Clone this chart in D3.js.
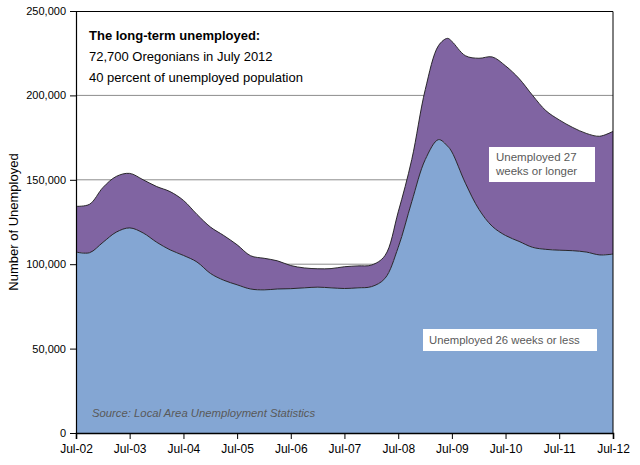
<!DOCTYPE html>
<html>
<head>
<meta charset="utf-8">
<script src="https://cdn.jsdelivr.net/npm/d3@7"></script>
<style>
  body { margin: 0; background: #fff; }
  text { font-family: "Liberation Sans", Arial, sans-serif; }
</style>
</head>
<body>
<svg id="chart" width="640" height="465"></svg>
<script>
// readings, mostly quarterly, Jul 2002 - Jul 2012
const quarters = [
  "2002-07", "2002-10", "2003-01", "2003-04", "2003-07", "2003-10", "2004-01", "2004-04",
  "2004-07", "2004-10", "2005-01", "2005-04", "2005-07", "2005-10", "2006-01", "2006-04",
  "2006-07", "2006-10", "2007-01", "2007-04", "2007-07", "2007-10", "2008-01", "2008-04",
  "2008-07", "2008-10", "2009-01", "2009-04", "2009-06", "2009-07", "2009-10", "2010-01",
  "2010-04", "2010-07", "2010-10", "2011-01", "2011-04", "2011-07", "2011-10", "2012-01",
  "2012-04", "2012-07"
];

// unemployed 26 weeks or less
const shortTerm = [
  107200, 106800, 113000, 119000, 121500, 118500, 113000, 108500,
  105200, 101300, 94500, 90500, 87800, 85300, 84800, 85300,
  85500, 86000, 86400, 86000, 85600, 86000, 86700, 91500,
  110000, 137000, 162000, 173800, 170000, 166500, 148000, 132500,
  122500, 117000, 113500, 110000, 108800, 108300, 108000, 107200,
  105500, 106000
];

// unemployed 27 weeks or longer
const longTerm = [
  27100, 28700, 32500, 33000, 32300, 31500, 33000, 34500,
  32600, 28200, 27500, 26500, 23700, 19700, 18700, 16700,
  13700, 11800, 10900, 11400, 12900, 13000, 12800, 13500,
  21000, 25000, 41500, 55700, 63800, 65500, 75500, 89500,
  100300, 100500, 96500, 90000, 82200, 77200, 73000, 70300,
  70300, 72700
];

const tickLabels = ["Jul-02", "Jul-03", "Jul-04", "Jul-05", "Jul-06", "Jul-07",
  "Jul-08", "Jul-09", "Jul-10", "Jul-11", "Jul-12"];
const yTicks = [0, 50000, 100000, 150000, 200000, 250000];

const seriesKeys = ["short", "long"];
const seriesColors = ["#84a6d3", "#8064a2"];

const svg = d3.select("svg#chart");
const width = +svg.attr("width");
const height = +svg.attr("height");
const margins = { top: 11, right: 27, bottom: 32, left: 76 };
const chartWidth = width - margins.left - margins.right;
const chartHeight = height - margins.top - margins.bottom;

const parseQ = d3.timeParse("%Y-%m");
const parseTick = d3.timeParse("%b-%y");

const table = quarters.map((q, i) => ({
  date: parseQ(q),
  short: shortTerm[i],
  long: longTerm[i]
}));

const xScale = d3.scaleTime()
  .domain(d3.extent(table, d => d.date))
  .range([0, chartWidth]);

const yScale = d3.scaleLinear()
  .domain([0, 250000])
  .range([chartHeight, 0]);

const chartArea = svg.append("g")
  .attr("transform", `translate(${margins.left},${margins.top})`);

// gridlines
chartArea.append("g")
  .selectAll("line")
  .data(yTicks.filter(v => v > 0 && v < 250000))
  .join("line")
  .attr("x1", 0)
  .attr("x2", chartWidth)
  .attr("y1", d => yScale(d))
  .attr("y2", d => yScale(d))
  .attr("stroke", "#8c8c8c")
  .attr("stroke-width", 1);

// stacked areas
const stacked = d3.stack().keys(seriesKeys)(table);

const area = d3.area()
  .x(d => xScale(d.data.date))
  .y0(d => yScale(d[0]))
  .y1(d => yScale(d[1]))
  .curve(d3.curveCatmullRom);

const topLine = d3.line()
  .x(d => xScale(d.data.date))
  .y(d => yScale(d[1]))
  .curve(d3.curveCatmullRom);

chartArea.selectAll("path.area")
  .data(stacked)
  .join("path")
  .attr("class", "area")
  .attr("d", area)
  .attr("fill", (d, i) => seriesColors[i]);

chartArea.selectAll("path.edge")
  .data(stacked)
  .join("path")
  .attr("class", "edge")
  .attr("d", topLine)
  .attr("fill", "none")
  .attr("stroke", "#1a1a1a")
  .attr("stroke-width", 0.9);

// plot frame (top and right)
chartArea.append("path")
  .attr("d", `M0,0.5H${chartWidth}V${chartHeight}`)
  .attr("fill", "none")
  .attr("stroke", "#000")
  .attr("stroke-width", 1);

// axes
const yAxis = d3.axisLeft(yScale)
  .tickValues(yTicks)
  .tickSize(6)
  .tickPadding(4)
  .tickFormat(d3.format(","));

const xAxis = d3.axisBottom(xScale)
  .tickValues(tickLabels.map(parseTick))
  .tickSize(6)
  .tickPadding(5)
  .tickFormat(d3.timeFormat("%b-%y"));

const ySide = chartArea.append("g").call(yAxis);
ySide.select(".domain").attr("stroke", "#000").attr("stroke-width", 1.2);
ySide.selectAll("text").attr("font-size", "11px").attr("fill", "#000")
  .style("font-family", "Liberation Sans, Arial, sans-serif");

const xSide = chartArea.append("g")
  .attr("transform", `translate(0,${chartHeight})`)
  .call(xAxis);
xSide.select(".domain").attr("stroke", "#000").attr("stroke-width", 1.6);
xSide.selectAll("text").attr("font-size", "12px").attr("fill", "#000")
  .style("font-family", "Liberation Sans, Arial, sans-serif");

// axis title
svg.append("text")
  .attr("transform", `translate(18,${margins.top + chartHeight / 2}) rotate(-90)`)
  .attr("text-anchor", "middle")
  .attr("font-size", "13px")
  .attr("fill", "#000")
  .text("Number of Unemployed");

// headline text block
const note = svg.append("g").attr("transform", "translate(89,0)");
note.append("text").attr("y", 40).attr("font-size", "13px").attr("font-weight", "bold")
  .text("The long-term unemployed:");
note.append("text").attr("y", 61).attr("font-size", "13px")
  .text("72,700 Oregonians in July 2012");
note.append("text").attr("y", 82).attr("font-size", "13px")
  .text("40 percent of unemployed population");

// series labels in white boxes
const longLabel = svg.append("g").attr("transform", "translate(489,147)");
longLabel.append("rect").attr("width", 106).attr("height", 35).attr("fill", "#fff");
longLabel.append("text").attr("x", 7).attr("y", 14).attr("font-size", "11.5px")
  .attr("fill", "#595959").text("Unemployed 27");
longLabel.append("text").attr("x", 7).attr("y", 28).attr("font-size", "11.5px")
  .attr("fill", "#595959").text("weeks or longer");

const shortLabel = svg.append("g").attr("transform", "translate(423,329)");
shortLabel.append("rect").attr("width", 174).attr("height", 22).attr("fill", "#fff");
shortLabel.append("text").attr("x", 6).attr("y", 15).attr("font-size", "11.3px")
  .attr("fill", "#595959").text("Unemployed 26 weeks or less");

// source
svg.append("text")
  .attr("x", 92)
  .attr("y", 417)
  .attr("font-size", "11.3px")
  .attr("font-style", "italic")
  .attr("fill", "#595959")
  .text("Source: Local Area Unemployment Statistics");
</script>
</body>
</html>
